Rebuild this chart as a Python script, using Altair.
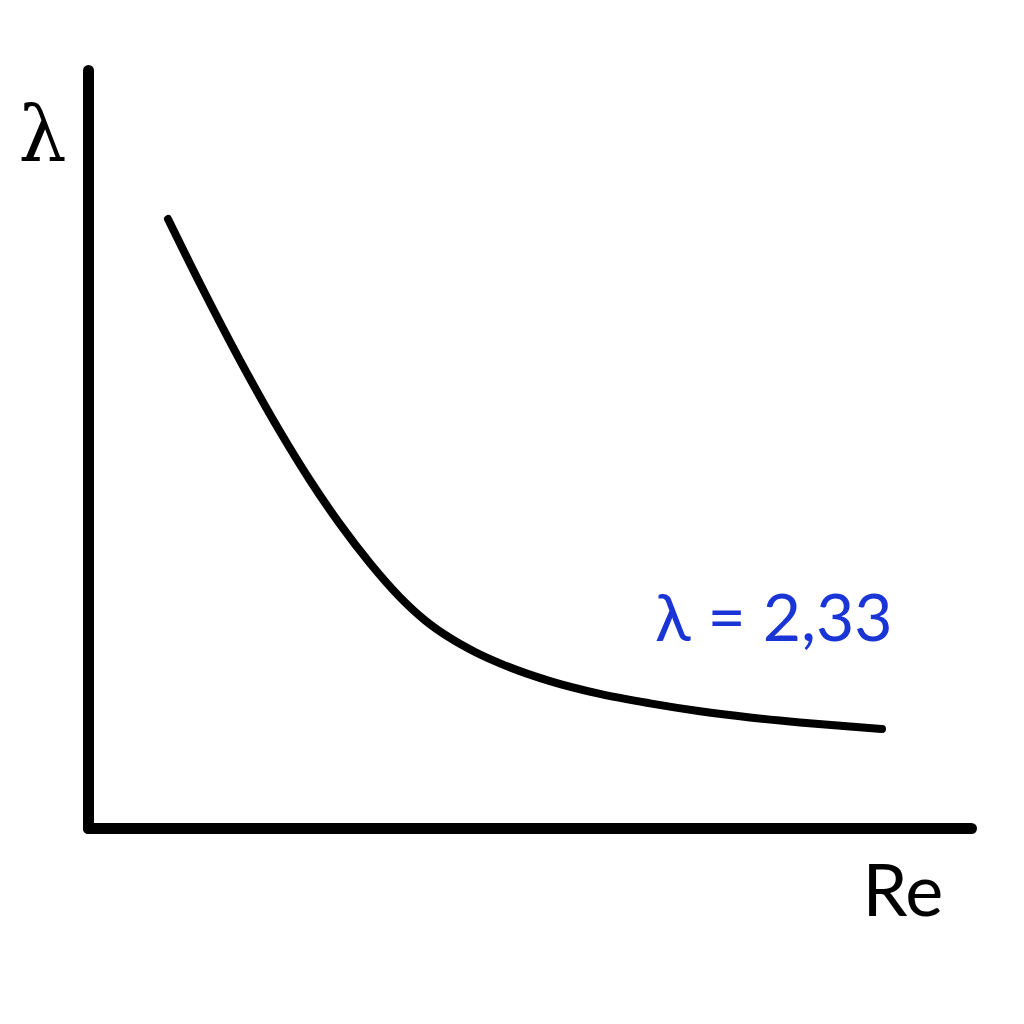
import altair as alt
import pandas as pd

# Curve (arbitrary units, axes span 0..100)
re_vals = [9.06, 12.68, 17.21, 21.74, 25.14, 28.54, 31.94, 35.33, 38.17, 41.00,
           43.83, 46.66, 52.32, 57.98, 63.65, 69.31, 74.97, 80.63, 86.30, 89.92]
lam_vals = [80.34, 71.83, 61.70, 52.31, 45.88, 40.08, 34.93, 30.45, 27.40, 25.07,
            23.22, 21.72, 19.38, 17.69, 16.44, 15.40, 14.58, 13.92, 13.38, 13.07]
annotation = ["λ = 2,33"]
x_title = "Re"
y_title = "λ"

curve = pd.DataFrame({"Re": re_vals, "lam": lam_vals})
note = pd.DataFrame({"t": annotation})

x_axis = alt.Axis(
    title=x_title, labels=False, ticks=False, grid=False,
    domainColor="black", domainWidth=11, domainCap="round",
    titleFont="Lato", titleFontSize=72, titleFontWeight="normal", titleColor="black",
    titleAlign="left", titleBaseline="alphabetic", titleX=774, titleY=87,
)
y_axis = alt.Axis(
    title=y_title, labels=False, ticks=False, grid=False,
    domainColor="black", domainWidth=11, domainCap="round",
    titleFont="DejaVu Serif", titleFontSize=76, titleFontWeight="normal", titleColor="black",
    titleAngle=0, titleAlign="center", titleBaseline="alphabetic", titleX=-46, titleY=89,
)

line = alt.Chart(curve).mark_line(
    color="black", strokeWidth=8, strokeCap="round", interpolate="monotone"
).encode(
    x=alt.X("Re:Q", scale=alt.Scale(domain=[0, 100], nice=False, zero=False), axis=x_axis),
    y=alt.Y("lam:Q", scale=alt.Scale(domain=[0, 100], nice=False, zero=False), axis=y_axis),
)

label = alt.Chart(note).mark_text(
    font="Lato", fontSize=66, color="#1a35d6", align="left", baseline="alphabetic"
).encode(
    text="t:N", x=alt.value(567), y=alt.value(571)
)

chart = alt.layer(line, label).properties(
    width=883, height=758,
    autosize=alt.AutoSizeParams(type="none"),
    padding={"left": 80, "top": 62, "right": 45, "bottom": 150},
).configure(background="white", view=alt.ViewConfig(stroke=None))

chart.save("out.html", embed_options={"renderer": "svg", "actions": False})
